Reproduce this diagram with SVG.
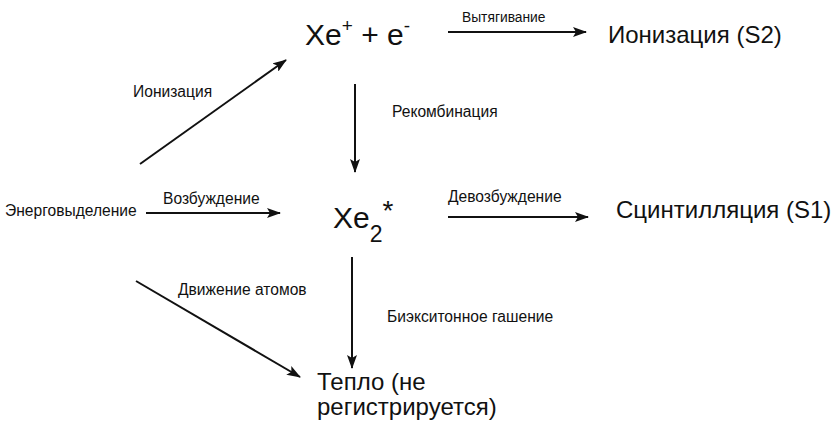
<svg xmlns="http://www.w3.org/2000/svg" width="834" height="423" viewBox="0 0 834 423">
<style>
text{font-family:"Liberation Sans",Arial,sans-serif;fill:#111}
.s{font-size:15.6px}
.m{font-size:24px}
.b{font-size:30px}
.c line{stroke:#111;stroke-width:2;marker-end:url(#a)}
</style>
<defs><marker id="a" markerWidth="14" markerHeight="10" refX="13" refY="5" orient="auto" markerUnits="userSpaceOnUse"><path d="M0,0 L14,5 L0,10 L3,5 Z" fill="#111"/></marker></defs>
<rect width="834" height="423" fill="#fff"/>
<g id="xeplus"><text class="b" x="305" y="45">Xe<tspan font-size="19" dy="-13">+</tspan><tspan dy="13"> + e</tspan><tspan font-size="19" dy="-13">-</tspan></text></g>
<g id="s2"><text class="m" x="608" y="43">Ионизация (S2)</text></g>
<g id="energy"><text class="s" x="5" y="216">Энерговыделение</text></g>
<g id="xe2"><text class="b" x="333" y="228">Xe<tspan font-size="23" dy="14">2</tspan><tspan font-size="28" dy="-22">*</tspan></text></g>
<g id="s1"><text class="m" x="616" y="218">Сцинтилляция (S1)</text></g>
<g id="heat"><text class="m" x="317" y="390">Тепло (не</text><text class="m" x="317" y="415">регистрируется)</text></g>
<g id="connectors" class="c">
<line x1="448" y1="32" x2="586" y2="32"/>
<line x1="140" y1="164" x2="286" y2="60"/>
<line x1="355" y1="84" x2="355" y2="172"/>
<line x1="146" y1="213" x2="280" y2="213"/>
<line x1="448" y1="217" x2="588" y2="217"/>
<line x1="352" y1="257" x2="352" y2="368"/>
<line x1="136" y1="281" x2="300" y2="377"/>
</g>
<g id="labels">
<text x="462" y="22" font-size="13.8">Вытягивание</text>
<text class="s" x="133" y="97">Ионизация</text>
<text class="s" x="392" y="117">Рекомбинация</text>
<text class="s" x="163" y="204">Возбуждение</text>
<text class="s" x="448" y="202">Девозбуждение</text>
<text class="s" x="387" y="322">Биэкситонное гашение</text>
<text class="s" x="178" y="295">Движение атомов</text>
</g>
</svg>
